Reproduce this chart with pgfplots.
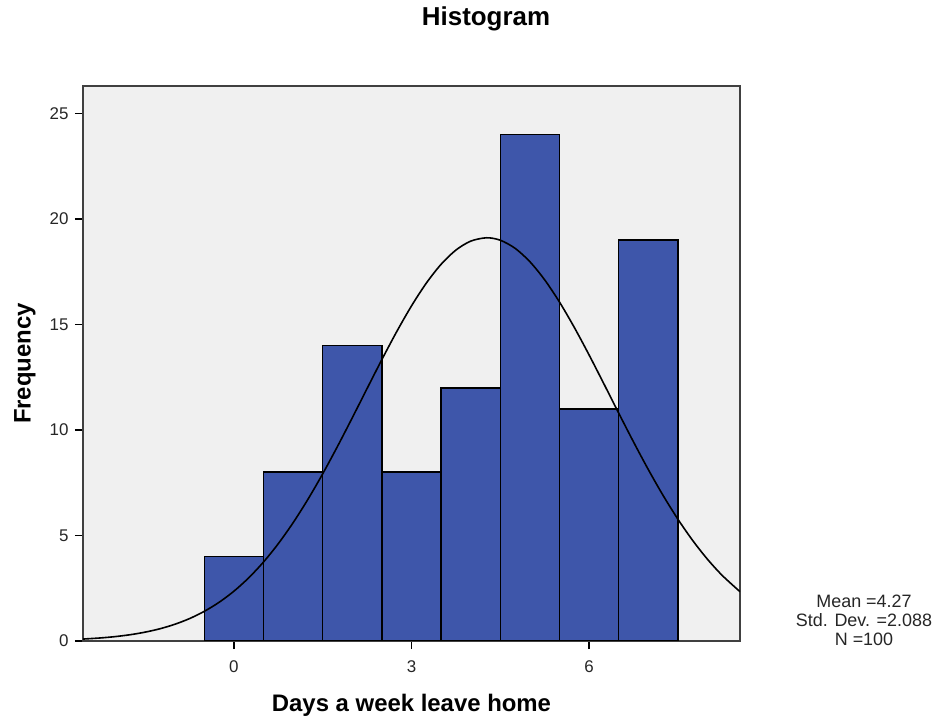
\documentclass[border=0pt]{standalone}
\usepackage{pgfplots}
\pgfplotsset{compat=1.18}
\usepackage{fontspec}
\setmainfont{Liberation Sans}

\definecolor{plotbg}{RGB}{240,240,240}
\definecolor{barblue}{RGB}{62,86,170}

\begin{document}
\begin{tikzpicture}
\useasboundingbox (0,0) rectangle (943bp,723bp);
\begin{axis}[
    at={(83bp,82bp)}, anchor=south west,
    scale only axis,
    width=657bp, height=555bp,
    xmin=-2.55, xmax=8.55,
    ymin=0, ymax=26.3,
    xtick={0,3,6},
    ytick={0,5,10,15,20,25},
    xtick pos=bottom, ytick pos=left,
    tick align=outside,
    major tick length=8bp,
    tick style={black, line width=1.3bp},
    axis line style={black!75, line width=1.5bp},
    axis background/.style={fill=plotbg},
    tick label style={font=\fontsize{17}{17}\selectfont, text=black!85},
    /pgf/number format/assume math mode=true,
    xticklabel style={yshift=-8bp},
    yticklabel style={xshift=-3bp},
    xlabel={Days a week leave home},
    ylabel={Frequency},
    every axis x label/.style={at={(rel axis cs:0.5,0)}, anchor=center, yshift=-64bp,
        font=\fontsize{24}{24}\selectfont\bfseries},
    every axis y label/.style={at={(rel axis cs:0,0.5)}, anchor=center, rotate=90, yshift=58bp,
        font=\fontsize{24}{24}\selectfont\bfseries},
]
\addplot[ybar interval, fill=barblue, draw=black, line width=1.5bp]
coordinates {
    (-0.5,4) (0.5,8) (1.5,14) (2.5,8) (3.5,12) (4.5,24) (5.5,11) (6.5,19) (7.5,19)
};
% normal curve, mean 4.27, sd 2.088, N 100
\addplot[black, line width=1.6bp, smooth, no markers]
coordinates {
    (-2.55,0.092) (-2.25,0.146) (-2.0,0.210) (-1.75,0.299) (-1.5,0.420)
    (-1.25,0.580) (-1.0,0.791) (-0.75,1.062) (-0.5,1.407) (-0.25,1.835)
    (0,2.361) (0.25,2.995) (0.5,3.744) (0.75,4.614) (1.0,5.606)
    (1.25,6.713) (1.5,7.925) (1.75,9.224) (2.0,10.581) (2.25,11.966)
    (2.5,13.340) (2.75,14.659) (3.0,15.880) (3.25,16.958) (3.5,17.851)
    (3.75,18.524) (4.0,18.948) (4.27,19.107) (4.5,18.991) (4.75,18.609)
    (5.0,17.974) (5.25,17.114) (5.5,16.063) (5.75,14.862) (6.0,13.556)
    (6.25,12.188) (6.5,10.802) (6.75,9.438) (7.0,8.128) (7.25,6.900)
    (7.5,5.775) (7.75,4.765) (8.0,3.875) (8.25,3.106) (8.55,2.337)
};
\end{axis}
\node[font=\fontsize{26}{26}\selectfont\bfseries] at (486bp,704bp) {Histogram};
\node[font=\fontsize{18}{19}\selectfont, align=center, text=black!85] at (864bp,103bp)
    {Mean =4.27\\Std. Dev. =2.088\\N =100};
\end{tikzpicture}
\end{document}
